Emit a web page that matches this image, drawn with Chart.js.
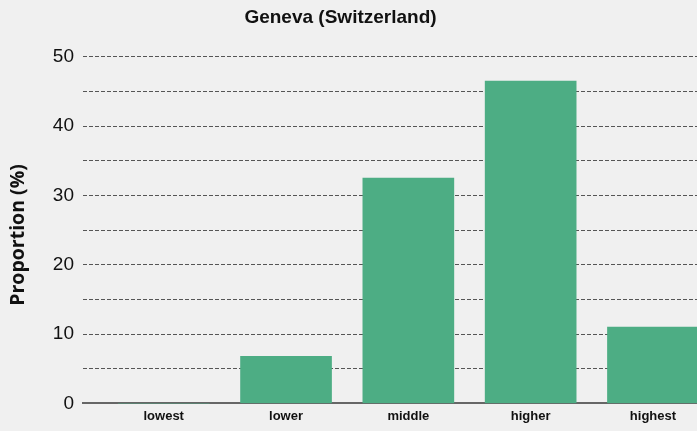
<!DOCTYPE html>
<html>
<head>
<meta charset="utf-8">
<script src="https://cdn.jsdelivr.net/npm/chart.js@4.4.0/dist/chart.umd.min.js"></script>
<style>
  html, body { margin: 0; padding: 0; background: #f0f0f0; overflow: hidden; width: 697px; height: 431px; }
  #wrap { position: absolute; left: -16px; top: 0; width: 713px; height: 431px; }
  canvas { display: block; }
</style>
</head>
<body>
<div id="wrap"><canvas id="c" width="713" height="431"></canvas></div>
<script>
const categories = ['lowest', 'lower', 'middle', 'higher', 'highest'];
const proportions = [0, 6.8, 32.5, 46.5, 11.0];
const yTickLabels = [0, 10, 20, 30, 40, 50];
const chartTitle = 'Geneva (Switzerland)';
const yAxisTitle = 'Proportion (%)\u2002';

const points = proportions.map((v, i) => ({ x: i, y: v }));

new Chart(document.getElementById('c'), {
  type: 'bar',
  data: {
    datasets: [{
      data: points,
      backgroundColor: '#4dad84',
      borderWidth: 0,
      barThickness: 91
    }]
  },
  options: {
    responsive: false,
    animation: false,
    devicePixelRatio: 1,
    layout: { padding: { left: 0, right: 0, top: 0, bottom: 2 } },
    plugins: {
      legend: { display: false },
      tooltip: { enabled: false },
      title: {
        display: true,
        text: chartTitle,
        color: '#111',
        font: { family: 'Liberation Sans', size: 19, weight: 'bold' },
        padding: { top: 6, bottom: 28 }
      }
    },
    scales: {
      x: {
        type: 'linear',
        offset: false,
        min: -0.66,
        max: 4.36,
        grid: { display: false, drawTicks: false },
        border: { display: true, color: '#666', width: 2 },
        ticks: {
          stepSize: 1,
          includeBounds: false,
          autoSkip: false,
          maxRotation: 0,
          padding: 5,
          color: '#111',
          font: { family: 'Liberation Sans', size: 13, weight: 'bold' },
          callback: (v) => (Number.isInteger(v) && categories[v] !== undefined) ? categories[v] : ''
        }
      },
      y: {
        min: 0,
        max: 50,
        afterFit: (scale) => { scale.width = 99; },
        grid: { color: '#555', lineWidth: 1, drawTicks: false },
        border: { display: false, dash: [4, 2] },
        ticks: {
          stepSize: 5,
          padding: 9,
          color: '#111',
          font: { family: 'Liberation Sans', size: 19 },
          callback: (v) => yTickLabels.includes(v) ? String(v) : ''
        },
        title: {
          display: true,
          text: yAxisTitle,
          color: '#111',
          font: { family: 'Open Sans', size: 19.5, weight: 'bold' },
          padding: { top: 23, bottom: 0 }
        }
      }
    }
  }
});
</script>
</body>
</html>
